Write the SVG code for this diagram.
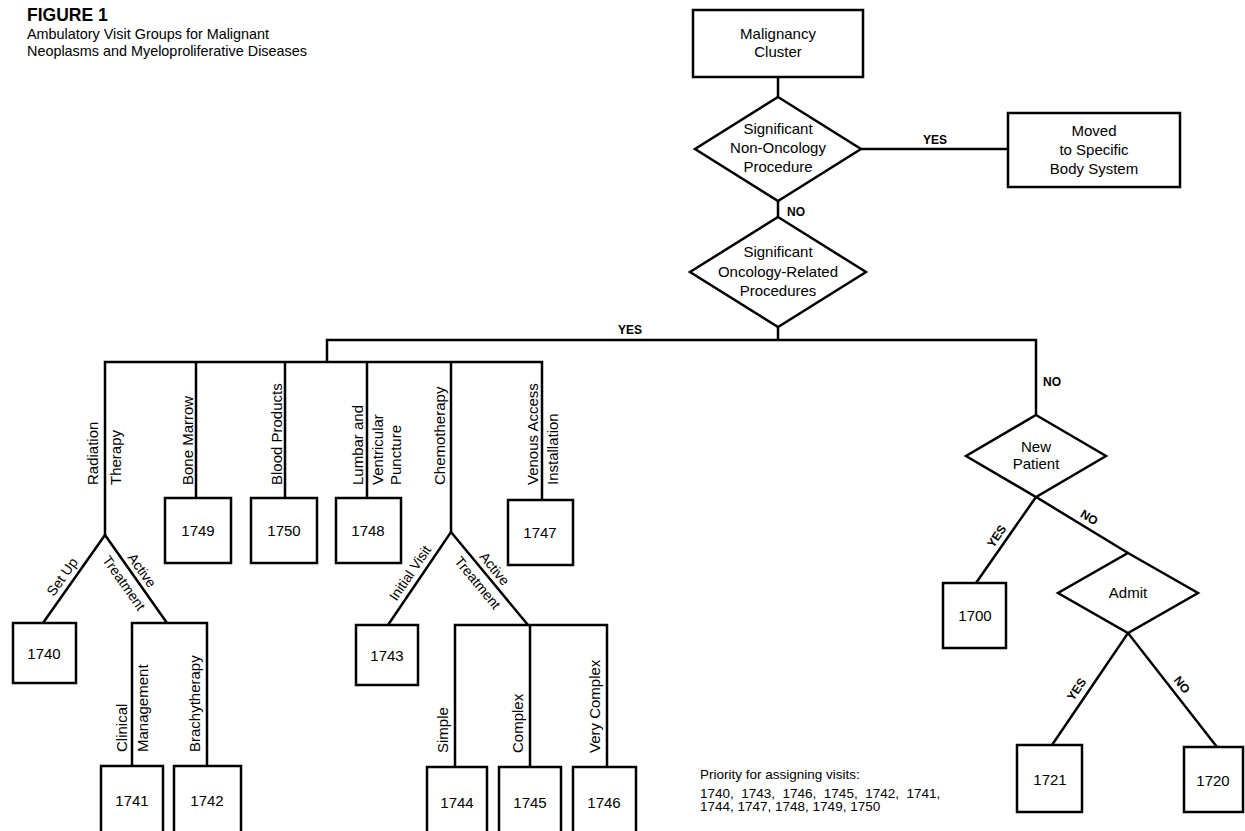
<svg xmlns="http://www.w3.org/2000/svg" width="1245" height="831" viewBox="0 0 1245 831">
<style>
text { font-family: "Liberation Sans", Arial, sans-serif; fill: #000; }
.node { fill: #fff; stroke: #000; stroke-width: 2.5; }
.c { fill: none; stroke: #000; stroke-width: 2.5; stroke-linejoin: miter; }
.t { font-size: 15px; text-anchor: middle; }
.v { font-size: 15px; }
.lb { font-size: 12px; font-weight: bold; }
.lbm { font-size: 12px; font-weight: bold; text-anchor: middle; }
.d { font-size: 14px; text-anchor: middle; }
.p { font-size: 13.5px; }
</style>
<rect width="1245" height="831" fill="#fff"/>

<g id="title">
<text x="27" y="21" style="font-size:17.5px;font-weight:bold">FIGURE 1</text>
<text x="27" y="39" style="font-size:14.4px">Ambulatory Visit Groups for Malignant</text>
<text x="27" y="56" style="font-size:14.4px">Neoplasms and Myeloproliferative Diseases</text>
</g>

<g id="connectors">
<path class="c" d="M778,77 V97"/>
<path class="c" d="M861,149 H1008"/>
<path class="c" d="M778,201 V217"/>
<path class="c" d="M778,327 V340"/>
<path class="c" d="M327,362 V340 H1036 V415"/>
<path class="c" d="M105,535 V362 H542 V500"/>
<path class="c" d="M196,362 V498 M285,362 V498 M367,362 V498 M451,362 V532"/>
<path class="c" d="M43,623 L105,535 L167,623"/>
<path class="c" d="M132,766 V623 H207 V766"/>
<path class="c" d="M388,625 L451,532 L528,625"/>
<path class="c" d="M455,767 V625 H607 V767 M530,625 V767"/>
<path class="c" d="M976,583 L1036,497 L1128,553"/>
<path class="c" d="M1052,745 L1128,633 L1217,747"/>
<text class="lbm" x="935" y="144">YES</text>
<text class="lb" x="787" y="216">NO</text>
<text class="lbm" x="630" y="334">YES</text>
<text class="lb" x="1043" y="386">NO</text>
<text class="v" transform="translate(98,485) rotate(-90)">Radiation</text>
<text class="v" transform="translate(121,485) rotate(-90)">Therapy</text>
<text class="v" transform="translate(193,485) rotate(-90)">Bone Marrow</text>
<text class="v" transform="translate(282,485) rotate(-90)">Blood Products</text>
<text class="v" transform="translate(363,485) rotate(-90)">Lumbar and</text>
<text class="v" transform="translate(383,485) rotate(-90)">Ventricular</text>
<text class="v" transform="translate(401,485) rotate(-90)">Puncture</text>
<text class="v" transform="translate(445,485) rotate(-90)">Chemotherapy</text>
<text class="v" transform="translate(538,485) rotate(-90)">Venous Access</text>
<text class="v" transform="translate(558,485) rotate(-90)">Installation</text>
<text class="v" transform="translate(127,752) rotate(-90)">Clinical</text>
<text class="v" transform="translate(148,752) rotate(-90)">Management</text>
<text class="v" transform="translate(200,752) rotate(-90)">Brachytherapy</text>
<text class="v" transform="translate(448,753) rotate(-90)">Simple</text>
<text class="v" transform="translate(523,753) rotate(-90)">Complex</text>
<text class="v" transform="translate(600,753) rotate(-90)">Very Complex</text>
<text class="d" transform="translate(71,583) rotate(-54.8)" y="-6">Set Up</text>
<text class="d" transform="translate(134,576) rotate(54.8)" y="-5">Active</text>
<text class="d" transform="translate(134,576) rotate(54.8)" y="17">Treatment</text>
<text class="d" transform="translate(419,579) rotate(-55.9)" y="-6">Initial Visit</text>
<text class="d" transform="translate(487,575) rotate(50.4)" y="-5">Active</text>
<text class="d" transform="translate(487,575) rotate(50.4)" y="17">Treatment</text>
<text class="lbm" transform="translate(1005,542) rotate(-55.1)" y="-6">YES</text>
<text class="lbm" transform="translate(1084,526) rotate(31.3)" y="-6">NO</text>
<text class="lbm" transform="translate(1085,695) rotate(-55.8)" y="-6">YES</text>
<text class="lbm" transform="translate(1174,691) rotate(52)" y="-6">NO</text>
</g>

<g id="malignancy">
<rect class="node" x="693" y="10" width="170" height="67"/>
<text class="t" x="778" y="39">Malignancy</text>
<text class="t" x="778" y="57">Cluster</text>
</g>
<g id="nononc">
<polygon class="node" points="778,97 861,149 778,201 695,149"/>
<text class="t" x="778" y="134">Significant</text>
<text class="t" x="778" y="153">Non-Oncology</text>
<text class="t" x="778" y="172">Procedure</text>
</g>
<g id="moved">
<rect class="node" x="1008" y="113" width="172" height="74"/>
<text class="t" x="1094" y="136">Moved</text>
<text class="t" x="1094" y="155">to Specific</text>
<text class="t" x="1094" y="174">Body System</text>
</g>
<g id="oncrel">
<polygon class="node" points="778,217 866,272 778,327 690,272"/>
<text class="t" x="778" y="257">Significant</text>
<text class="t" x="778" y="277">Oncology-Related</text>
<text class="t" x="778" y="296">Procedures</text>
</g>
<g id="newpatient">
<polygon class="node" points="1036,415 1106,456 1036,497 966,456"/>
<text class="t" x="1036" y="452">New</text>
<text class="t" x="1036" y="469">Patient</text>
</g>
<g id="admit">
<polygon class="node" points="1128,553 1198,593 1128,633 1058,593"/>
<text class="t" x="1128" y="598">Admit</text>
</g>

<g id="n1749"><rect class="node" x="165" y="498" width="66" height="65"/><text class="t" x="198" y="536">1749</text></g>
<g id="n1750"><rect class="node" x="251" y="498" width="66" height="65"/><text class="t" x="284" y="536">1750</text></g>
<g id="n1748"><rect class="node" x="336" y="498" width="65" height="65"/><text class="t" x="368" y="536">1748</text></g>
<g id="n1747"><rect class="node" x="508" y="500" width="65" height="65"/><text class="t" x="540" y="538">1747</text></g>
<g id="n1740"><rect class="node" x="13" y="623" width="63" height="60"/><text class="t" x="44" y="659">1740</text></g>
<g id="n1743"><rect class="node" x="356" y="625" width="62" height="60"/><text class="t" x="387" y="661">1743</text></g>
<g id="n1741"><rect class="node" x="101" y="766" width="62" height="70"/><text class="t" x="132" y="806">1741</text></g>
<g id="n1742"><rect class="node" x="174" y="766" width="67" height="70"/><text class="t" x="207" y="806">1742</text></g>
<g id="n1744"><rect class="node" x="427" y="767" width="60" height="70"/><text class="t" x="457" y="808">1744</text></g>
<g id="n1745"><rect class="node" x="499" y="767" width="62" height="70"/><text class="t" x="530" y="808">1745</text></g>
<g id="n1746"><rect class="node" x="573" y="767" width="63" height="70"/><text class="t" x="604" y="808">1746</text></g>
<g id="n1700"><rect class="node" x="943" y="583" width="63" height="65"/><text class="t" x="975" y="621">1700</text></g>
<g id="n1721"><rect class="node" x="1017" y="745" width="65" height="67"/><text class="t" x="1050" y="785">1721</text></g>
<g id="n1720"><rect class="node" x="1184" y="747" width="59" height="65"/><text class="t" x="1213" y="786">1720</text></g>

<g id="priority">
<text class="p" x="700" y="779">Priority for assigning visits:</text>
<text class="p" x="700" y="798">1740,&#160; 1743,&#160; 1746,&#160; 1745,&#160; 1742,&#160; 1741,</text>
<text class="p" x="700" y="811">1744, 1747, 1748, 1749, 1750</text>
</g>
</svg>
